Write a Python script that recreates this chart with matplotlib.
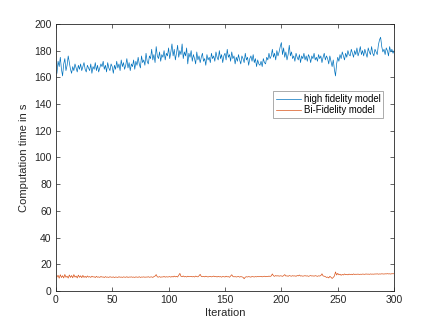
import numpy as np
import matplotlib
matplotlib.use("Agg")
import matplotlib.pyplot as plt

iterations = list(range(1, 301))

high_fidelity = [
    163, 172, 168, 175, 166, 161, 170, 174, 165, 169, 176, 171, 166, 163, 168, 165, 170, 167, 164, 169,
    166, 170, 165, 168, 171, 166, 164, 169, 167, 165, 170, 163, 168, 166, 171, 165, 169, 164, 167, 170,
    168, 172, 166, 169, 164, 171, 167, 165, 170, 168, 163, 169, 166, 172, 167, 170, 165, 173, 168, 171,
    166, 169, 174, 167, 171, 165, 170, 168, 173, 166, 172, 169, 175, 170, 167, 176, 171, 173, 169, 178,
    172, 170, 176, 174, 181, 173, 177, 171, 183, 176, 174, 179, 172, 177, 175, 180, 173, 178, 176, 182,
    174, 179, 185, 176, 181, 173, 178, 184, 175, 180, 177, 185, 174, 179, 176, 182, 170, 178, 175, 180,
    172, 177, 174, 170, 179, 173, 176, 171, 175, 178, 172, 174, 169, 177, 173, 175, 171, 178, 174, 176,
    172, 179, 175, 173, 180, 174, 177, 171, 176, 178, 173, 181, 175, 177, 172, 179, 174, 176, 170, 175,
    172, 177, 173, 170, 176, 174, 171, 178, 173, 175, 169, 174, 176, 172, 177, 171, 174, 168, 173, 170,
    169, 172, 168, 174, 171, 170, 175, 173, 178, 174, 176, 181, 175, 178, 173, 180, 176, 179, 183, 186,
    177, 182, 175, 179, 173, 177, 184, 176, 179, 174, 176, 172, 178, 175, 173, 177, 171, 176, 174, 178,
    173, 176, 172, 177, 175, 171, 176, 174, 178, 173, 175, 172, 177, 174, 176, 171, 175, 178, 173, 176,
    174, 170, 176, 172, 168, 173, 166, 161, 170, 175, 172, 177, 174, 179, 176, 173, 178, 175, 180, 177,
    176, 181, 178, 175, 180, 177, 182, 176, 179, 183, 177, 180, 176, 181, 178, 175, 182, 179, 177, 183,
    178, 176, 181, 179, 177, 184, 188, 190, 183, 179, 181, 177, 182, 180, 176, 183, 179, 181, 178, 180,
]

bi_fidelity = [
    10.5, 11.8, 9.6, 12.2, 10.1, 11.5, 9.8, 12.4, 10.3, 11.1, 9.7, 12.0, 10.2, 11.6, 9.9, 12.3, 10.4, 11.2, 9.8, 11.9,
    10.3, 11.4, 10.0, 11.7, 10.2, 11.0, 10.1, 11.3, 10.4, 10.8, 10.2, 11.1, 10.5, 10.7, 10.1, 11.0, 10.3, 10.6, 10.2, 10.9,
    10.4, 10.6, 10.1, 10.8, 10.3, 10.5, 10.2, 10.7, 10.4, 10.3, 10.6, 10.1, 10.5, 10.4, 10.2, 10.7, 10.3, 10.5, 10.2, 10.6,
    10.4, 10.3, 10.7, 10.2, 10.5, 10.4, 10.6, 10.3, 10.5, 10.2, 10.6, 10.4, 10.3, 10.7, 10.2, 10.5, 10.4, 10.6, 10.3, 10.5,
    10.4, 10.7, 10.3, 10.5, 10.6, 10.2, 10.8, 11.2, 12.3, 10.6, 10.4, 10.8, 10.3, 10.6, 10.5, 10.9, 10.4, 10.7, 10.5, 10.6,
    10.8, 10.4, 10.9, 10.5, 11.2, 10.6, 11.0, 10.5, 11.8, 13.2, 11.0, 10.7, 11.3, 10.6, 10.9, 10.5, 11.1, 10.7, 10.8, 11.0,
    10.6, 10.9, 10.5, 11.2, 10.8, 10.6, 11.4, 12.5, 10.9, 10.7, 11.0, 10.6, 11.1, 10.8, 10.5, 10.9, 11.0, 10.6, 10.8, 11.2,
    10.7, 10.9, 10.5, 11.0, 10.6, 10.8, 10.4, 10.9, 10.7, 10.5, 11.1, 10.6, 10.8, 10.3, 11.3, 12.2, 10.9, 10.6, 10.8, 10.5,
    10.7, 10.9, 10.4, 10.8, 10.6, 10.3, 9.2, 10.4, 10.7, 10.5, 10.8, 10.6, 10.4, 10.9, 10.7, 10.5, 10.8, 10.6, 10.9, 10.7,
    10.8, 11.0, 10.6, 10.9, 11.1, 10.7, 11.0, 10.8, 11.2, 10.9, 11.3, 12.8, 11.4, 11.0, 11.6, 11.2, 11.5, 11.1, 11.4, 11.3,
    11.0, 11.5, 12.3, 11.2, 11.4, 11.0, 11.6, 11.3, 11.1, 11.5, 11.2, 11.4, 11.0, 11.6, 11.3, 12.0, 11.2, 11.4, 11.1, 11.3,
    11.5, 11.2, 11.4, 11.0, 11.3, 11.6, 11.2, 11.4, 11.1, 11.5, 11.3, 11.0, 11.4, 11.2, 11.6, 12.9, 11.3, 11.1, 10.8, 10.2,
    10.5, 9.8, 11.0, 10.3, 9.4, 10.2, 11.2, 14.3, 12.0, 13.2, 12.1, 12.6, 11.8, 12.4, 12.0, 12.8, 12.2, 12.5, 12.1, 12.7,
    12.3, 12.6, 12.2, 12.8, 12.4, 12.6, 12.5, 12.7, 12.4, 12.6, 12.5, 12.7, 12.6, 12.5, 12.8, 12.6, 12.7, 12.5, 12.8, 12.6,
    12.7, 12.6, 12.8, 12.7, 12.9, 12.6, 12.8, 12.7, 12.9, 12.8, 12.7, 12.9, 12.8, 13.0, 12.8, 12.9, 12.7, 13.0, 12.9, 13.0,
]

series_labels = ["high fidelity model", "Bi-Fidelity model"]
x_ticks = [0, 50, 100, 150, 200, 250, 300]
y_ticks = [0, 20, 40, 60, 80, 100, 120, 140, 160, 180, 200]

plt.rcParams['font.family'] = ['Liberation Sans', 'DejaVu Sans']

fig = plt.figure(figsize=(4.36, 3.27), dpi=100)
ax = fig.add_axes([0.128, 0.110, 0.776, 0.817])

ax.plot(iterations, high_fidelity, color='#0072BD', lw=0.5, label=series_labels[0])
ax.plot(iterations, bi_fidelity, color='#D95319', lw=0.5, label=series_labels[1])

ax.set_xlim(0, 300)
ax.set_ylim(0, 200)
ax.set_xticks(x_ticks)
ax.set_yticks(y_ticks)
ax.tick_params(direction='in', length=3, width=0.5, labelsize=7.5, colors='#262626',
               top=True, right=True, pad=3)
for s in ax.spines.values():
    s.set_linewidth(0.6)
    s.set_color('#262626')

ax.set_xlabel('Iteration', fontsize=8, color='#262626', labelpad=2)
ax.set_ylabel('Computation time in s', fontsize=8, color='#262626', labelpad=4)

leg = ax.legend(loc='upper left', bbox_to_anchor=(0.642, 0.748), fontsize=6.9,
                frameon=True, fancybox=False, edgecolor='#8a8a8a', framealpha=1,
                handlelength=2.6, handletextpad=0.3, borderpad=0.3, labelspacing=0.1,
                borderaxespad=0)
leg.get_frame().set_linewidth(0.5)

fig.savefig('out.png', dpi=100)
